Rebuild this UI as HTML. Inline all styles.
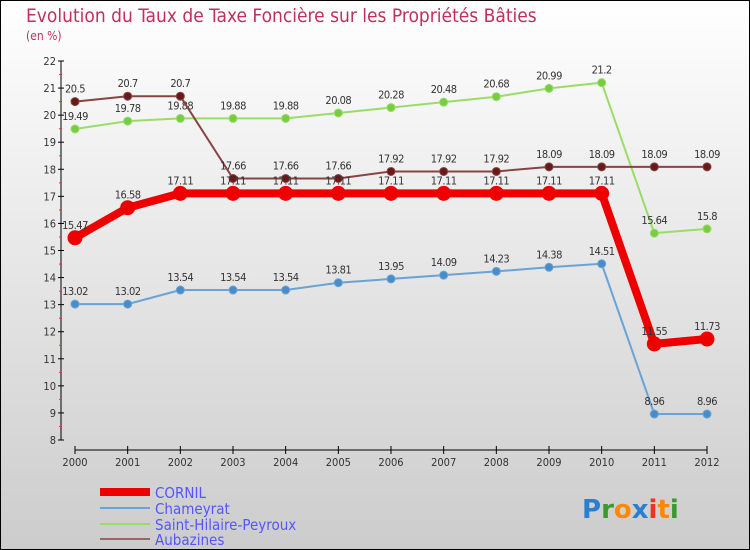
<!DOCTYPE html>
<html><head><meta charset="utf-8"><style>
body{margin:0}
#c{width:750px;height:550px;position:relative;overflow:hidden;font-family:"DejaVu Sans Condensed","Liberation Sans",sans-serif}
</style></head><body>
<div id="c">
<svg id="s" width="750" height="550" xmlns="http://www.w3.org/2000/svg">
<defs><linearGradient id="bg" x1="0" y1="0" x2="0" y2="1"><stop offset="0" stop-color="#ffffff"/><stop offset="1" stop-color="#cccccc"/></linearGradient></defs>
<rect x="0.5" y="0.5" width="749" height="549" fill="url(#bg)" stroke="#000"/>
<text x="26" y="22" font-size="19" fill="#c0305a" font-weight="300">Evolution du Taux de Taxe Foncière sur les Propriétés Bâties</text>
<text x="26" y="40" font-size="12" fill="#c0305a">(en %)</text>
<g id="axes"></g><g id="series"></g>
<g>
<line x1="100" y1="492" x2="150" y2="492" stroke="#ee0000" stroke-width="8"/>
<text x="155" y="498" font-size="15" fill="#5555ff">CORNIL</text>
<line x1="100" y1="508" x2="150" y2="508" stroke="#6aa3d5" stroke-width="2"/>
<text x="155" y="514" font-size="15" fill="#5555ff">Chameyrat</text>
<line x1="100" y1="524" x2="150" y2="524" stroke="#99dd66" stroke-width="2"/>
<text x="155" y="530" font-size="15" fill="#5555ff">Saint-Hilaire-Peyroux</text>
<line x1="100" y1="539" x2="150" y2="539" stroke="#996666" stroke-width="2"/>
<text x="155" y="545" font-size="15" fill="#5555ff">Aubazines</text>
</g>
<g font-size="26" font-weight="bold" font-family="DejaVu Sans, sans-serif">
<text x="582" y="518"><tspan fill="#2a7fd0">P</tspan><tspan fill="#3a9a30">r</tspan><tspan fill="#ff8800">o</tspan><tspan fill="#2a7fd0">x</tspan><tspan fill="#ee3322">i</tspan><tspan fill="#ff8800">t</tspan><tspan fill="#3a9a30">i</tspan></text>
</g>
</svg></div>
<script>
const years=[2000,2001,2002,2003,2004,2005,2006,2007,2008,2009,2010,2011,2012];
const cornil=[15.47,16.58,17.11,17.11,17.11,17.11,17.11,17.11,17.11,17.11,17.11,11.55,11.73];
const chameyrat=[13.02,13.02,13.54,13.54,13.54,13.81,13.95,14.09,14.23,14.38,14.51,8.96,8.96];
const sainthilaire=[19.49,19.78,19.88,19.88,19.88,20.08,20.28,20.48,20.68,20.99,21.2,15.64,15.8];
const aubazines=[20.5,20.7,20.7,17.66,17.66,17.66,17.92,17.92,17.92,18.09,18.09,18.09,18.09];
const yTicks=[8,9,10,11,12,13,14,15,16,17,18,19,20,21,22];
const NS="http://www.w3.org/2000/svg";
const xS=i=>75+i*(707-75)/(years.length-1);
const yS=v=>440-(v-8)*(440-61)/14;
function mk(tag,attrs,parent){const e=document.createElementNS(NS,tag);for(const k in attrs)e.setAttribute(k,attrs[k]);parent.appendChild(e);return e;}
const ax=document.getElementById('axes');
let yl=mk('line',{x1:61,y1:61,x2:61,y2:440,stroke:'#000','stroke-width':1},ax);


yTicks.forEach(t=>{
 const y=yS(t);
 mk('line',{x1:58,y1:y,x2:64,y2:y,stroke:'#000'},ax);
 if(t<22){const m=mk('line',{x1:59,y1:y-13.5,x2:62,y2:y-13.5,stroke:'#e33'},ax);}
 const tx=mk('text',{x:56,y:y+4,'font-size':11,fill:'#333','text-anchor':'end'},ax);
 tx.textContent=t;
 
 
});
let xl=mk('line',{x1:75,y1:450,x2:707,y2:450,stroke:'#000','stroke-width':1},ax);


years.forEach((yr,i)=>{
 const x=xS(i);
 mk('line',{x1:x,y1:446,x2:x,y2:454,stroke:'#000'},ax);
 const tx=mk('text',{x:x,y:466,'font-size':11,fill:'#333','text-anchor':'middle'},ax);
 tx.textContent=yr;
 
 
});
const sg=document.getElementById('series');
function series(name,vals,color,w,r,dot,labelColor){
 const g=mk('g',{},sg);
 
 
 const pts=vals.map((v,i)=>xS(i)+','+yS(v)).join(' ');
 mk('polyline',{points:pts,fill:'none',stroke:color,'stroke-width':w,'stroke-linejoin':'round'},g);
 vals.forEach((v,i)=>{
  const c=mk('circle',{cx:xS(i),cy:yS(v),r:r,fill:dot,stroke:color,'stroke-width':1},g);
  
  
  const t=mk('text',{x:xS(i),y:yS(v)-9,'font-size':11,fill:'#333','text-anchor':'middle','letter-spacing':'-0.5'},g);
  t.textContent=String(v);
  
  
 });
}
series('sainthilaire',sainthilaire,'#99dd66',2,4,'#77cc44');
series('aubazines',aubazines,'#884444',2,4,'#661a1a');
series('chameyrat',chameyrat,'#6aa3d5',2,4,'#4a8cc8');
series('cornil',cornil,'#ee0000',8,7,'#ee0000');
</script>
</body></html>
